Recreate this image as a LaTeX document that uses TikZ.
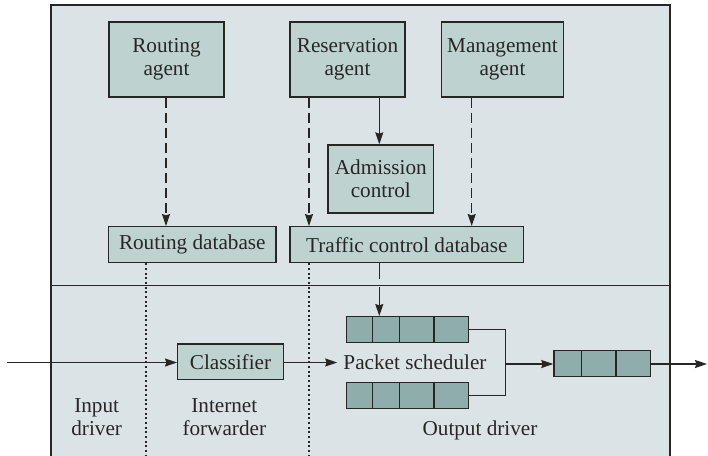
\documentclass[tikz,border=0pt]{standalone}
\usepackage{fontspec}
\setmainfont{Liberation Serif}
\usetikzlibrary{arrows.meta}
\definecolor{bgc}{HTML}{DCE3E6}
\definecolor{boxc}{HTML}{BED3D0}
\definecolor{qc}{HTML}{8FAEAB}
\definecolor{linec}{HTML}{262626}
\begin{document}
\begin{tikzpicture}[x=0.75pt,y=-0.75pt,
  every node/.style={font=\fontsize{15.9}{17.5}\selectfont, text=linec},
  box/.style={draw=linec, line width=1pt, fill=boxc, align=center, inner sep=0pt},
  qbox/.style={draw=linec, line width=1pt, fill=qc, inner sep=0pt},
  lbl/.style={align=center, inner sep=0pt},
  conn/.style={draw=linec, line width=1pt},
  tip/.style={-{Stealth[length=9pt,width=6pt,inset=1pt]}},
  dsh/.style={dash pattern=on 7.5pt off 3.75pt},
  dotl/.style={dash pattern=on 1.5pt off 2pt, line width=1pt}]
\useasboundingbox (0,0) rectangle (708,455);
% frame
\fill[bgc] (51,5) rectangle (670,456);
\draw[conn, line width=1.1pt] (51,456) -- (51,5) -- (670,5) -- (670,456);
\draw[conn] (51,285.7) -- (670,285.7);
% nodes
\node[box, minimum width=115pt*0.75, minimum height=75pt*0.75] (ra) at (166.5,59.5) {Routing\\agent};
\node[box, minimum width=115pt*0.75, minimum height=75pt*0.75] (resv) at (347.5,59.5) {Reservation\\agent};
\node[box, minimum width=121.6pt*0.75, minimum height=75pt*0.75] (ma) at (502.5,59.5) {Management\\agent};
\node[box, minimum width=105.7pt*0.75, minimum height=68pt*0.75] (adm) at (380.8,179) {Admission\\control};
\node[box, minimum width=167.3pt*0.75, minimum height=36pt*0.75] (rdb) at (192.3,244.7) {Routing database};
\node[box, minimum width=233.7pt*0.75, minimum height=36pt*0.75] (tdb) at (406.8,244.7) {Traffic control database};
\node[box, minimum width=105.6pt*0.75, minimum height=35.3pt*0.75] (cls) at (230.5,361.7) {Classifier};
\node[lbl, inner xsep=4.5pt] (ps) at (415,362.5) {Packet scheduler};
\node[lbl] (inl) at (96.7,417) {Input\\driver};
\node[lbl] (ifl) at (224.3,417) {Internet\\forwarder};
\node[lbl] (odl) at (480,430.5) {Output driver};
% queues
\node[qbox, minimum width=121.6pt*0.75, minimum height=26pt*0.75] (q1) at (407.5,329.7) {};
\node[qbox, minimum width=121.6pt*0.75, minimum height=26pt*0.75] (q2) at (407.5,395.8) {};
\node[qbox, minimum width=96.7pt*0.75, minimum height=26pt*0.75] (oq) at (602.3,363.7) {};
\coordinate (d1) at (372.3,0); \coordinate (d2) at (399.3,0); \coordinate (d3) at (434,0);
\coordinate (d4) at (581.7,0); \coordinate (d5) at (616,0);
\foreach \q in {q1,q2}{
  \foreach \d in {d1,d2,d3}{ \draw[conn] (\q.north -| \d) -- (\q.south -| \d); }
}
\foreach \d in {d4,d5}{ \draw[conn] (oq.north -| \d) -- (oq.south -| \d); }
% helper x positions
\coordinate (xa) at (166,0);
\coordinate (xb) at (309,0);
\coordinate (xc) at (379.3,0);
\coordinate (xd) at (471.7,0);
\coordinate (xe) at (146,0);
\coordinate (bot) at (0,456);
% arrows top
\draw[conn, dsh, tip] (ra.south -| xa) -- (rdb.north -| xa);
\draw[conn, dsh, tip] (resv.south -| xb) -- (tdb.north -| xb);
\draw[conn, tip] (resv.south -| xc) -- (adm.north -| xc);
\draw[conn, dsh, tip] (ma.south -| xd) -- (tdb.north -| xd);
\draw[conn, tip, dash pattern=on 12pt off 5.5pt on 40pt off 0pt] (tdb.south -| xc) -- (q1.north -| xc);
% dotted separators
\draw[conn, dotl] (rdb.south -| xe) -- (bot -| xe);
\draw[conn, dotl] (tdb.south -| xb) -- (bot -| xb);
% main flow
\coordinate (in) at (7,362.5);
\coordinate (j) at (505.7,364);
\coordinate (out) at (707,364);
\draw[conn, tip] (in) -- (cls.west |- in);
\draw[conn, tip] (cls.east |- in) -- (ps.west);
\draw[conn] (q1.east) -| (j) |- (q2.east);
\draw[conn, tip] (j) -- (oq.west |- j);
\draw[conn, tip] (oq.east |- out) -- (out);
\end{tikzpicture}
\end{document}
